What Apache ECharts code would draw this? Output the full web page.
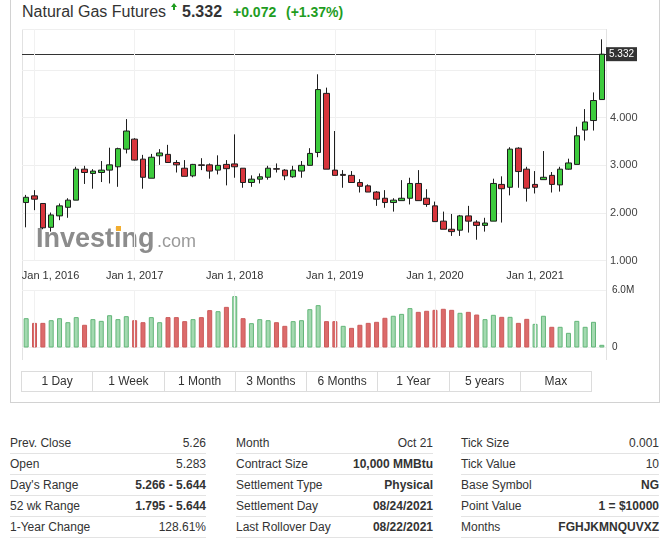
<!DOCTYPE html>
<html><head><meta charset="utf-8">
<script src="https://cdn.jsdelivr.net/npm/echarts@6/dist/echarts.min.js"></script>
<style>
html,body{margin:0;padding:0;background:#fff;width:666px;height:554px;overflow:hidden;font-family:"Liberation Sans",Arial,sans-serif;color:#333;}
.abs{position:absolute;white-space:nowrap;}
#chart{position:absolute;left:0;top:0;width:666px;height:410px;}
.widget{position:absolute;left:10px;top:-2px;width:650px;height:405px;border:1px solid #d2d2d2;box-sizing:border-box;}
.frame{position:absolute;left:22px;top:29px;width:585px;height:331px;border:1px solid #e2e2e2;border-bottom:none;box-sizing:border-box;}
.btns{position:absolute;left:21px;top:371px;width:571px;height:21px;border:1px solid #dcdcdc;box-sizing:border-box;display:flex;}
.btns div{flex:1;text-align:center;font-size:12px;line-height:19px;color:#333;border-right:1px solid #dcdcdc;}
.btns div:last-child{border-right:none;}
.row{position:absolute;height:21px;border-bottom:1px solid #e3e3e3;box-sizing:border-box;font-size:12px;line-height:20px;}
.row .l{position:absolute;left:0;top:0;color:#333;}
.row .v{position:absolute;right:0;top:0;color:#333;}
.b{font-weight:bold;}
</style></head>
<body>
<div class="widget"></div>
<div class="frame"></div>
<div class="abs" style="left:22px;top:3.5px;font-size:16px;line-height:16px;color:#333;">Natural Gas Futures</div>
<div class="abs" style="left:171px;top:3px;width:0;height:0;border-left:3px solid transparent;border-right:3px solid transparent;border-bottom:4px solid #1f9d1f;"></div>
<div class="abs" style="left:173px;top:7px;width:2px;height:3px;background:#1f9d1f;"></div>
<div class="abs" style="left:182px;top:3.5px;font-size:16px;line-height:16px;font-weight:bold;color:#333;">5.332</div>
<div class="abs" style="left:233px;top:4.2px;font-size:14px;line-height:16px;font-weight:bold;color:#1f9d1f;">+0.072</div>
<div class="abs" style="left:286px;top:4.2px;font-size:14px;line-height:16px;font-weight:bold;color:#1f9d1f;">(+1.37%)</div>
<div id="chart"></div>
<div class="btns" id="btns"></div>
<div id="table"></div>
<script>
// ---- data ----
const startYear = 2015, startMonth = 11; // Dec 2015 (0-based month)
const tickLabels = ['Jan 1, 2016','Jan 1, 2017','Jan 1, 2018','Jan 1, 2019','Jan 1, 2020','Jan 1, 2021'];
const opens  = [2.22,2.36,2.20,1.70,1.94,2.12,2.27,2.92,2.83,2.85,2.90,2.97,3.34,3.55,3.13,2.73,3.20,3.23,3.06,2.94,2.78,3.01,3.01,2.90,3.02,3.03,2.94,2.64,2.71,2.75,2.93,2.90,2.76,2.88,3.00,3.27,4.51,2.90,2.81,2.79,2.64,2.57,2.44,2.31,2.22,2.26,2.31,2.62,2.31,2.15,1.83,1.66,1.64,1.94,1.81,1.74,1.83,2.60,2.54,3.36,2.92,2.60,2.70,2.79,2.59,2.92,3.02,3.74,3.94,4.38];
const closes = [2.33,2.29,1.69,1.96,2.15,2.27,2.92,2.85,2.88,2.90,3.01,3.35,3.72,3.11,2.75,3.17,3.26,3.06,3.01,2.77,3.02,3.00,2.88,3.00,2.93,2.97,2.64,2.71,2.76,2.94,2.92,2.78,2.90,3.00,3.25,4.59,2.92,2.79,2.79,2.64,2.56,2.44,2.29,2.22,2.27,2.31,2.62,2.26,2.18,1.82,1.66,1.61,1.94,1.83,1.74,1.79,2.62,2.51,3.34,2.87,2.52,2.54,2.75,2.60,2.92,3.05,3.62,3.91,4.36,5.332];
const lows   = [1.70,2.06,1.66,1.61,1.85,1.90,2.27,2.61,2.51,2.65,2.62,2.55,3.25,3.10,2.51,2.73,3.01,3.06,2.85,2.77,2.75,2.90,2.72,2.81,2.58,2.74,2.53,2.55,2.62,2.70,2.85,2.69,2.74,2.74,3.00,3.17,2.92,2.79,2.53,2.64,2.43,2.44,2.15,2.11,2.03,2.26,2.18,2.26,2.13,1.82,1.66,1.52,1.52,1.59,1.44,1.61,1.83,1.80,2.37,2.53,2.24,2.41,2.70,2.43,2.45,2.91,3.02,3.52,3.73,4.38];
const highs  = [2.38,2.48,2.21,2.01,2.20,2.31,2.97,2.99,2.92,3.09,3.37,3.37,3.97,3.57,3.22,3.24,3.34,3.43,3.11,3.11,3.03,3.15,3.04,3.21,3.11,3.65,2.94,2.79,2.83,2.99,3.04,2.92,2.99,3.09,3.36,4.91,4.63,3.72,2.90,2.88,2.71,2.60,2.46,2.48,2.31,2.69,2.74,2.90,2.50,2.24,2.03,1.98,1.96,2.15,1.85,1.90,2.72,2.77,3.38,3.38,2.97,2.88,3.30,2.86,2.97,3.14,3.81,4.18,4.53,5.644];
const volumesM = [3.06,2.57,2.57,2.85,3.06,2.64,3.17,2.37,2.96,2.78,3.37,2.96,3.27,2.85,2.64,3.17,2.64,3.17,3.17,2.75,2.96,3.17,3.90,3.79,4.24,5.36,3.06,2.54,2.96,2.85,2.64,2.26,2.75,2.85,4.00,4.42,2.75,2.75,2.26,2.05,2.37,2.57,2.68,3.10,3.31,3.51,4.11,3.72,3.83,3.93,4.04,3.93,3.62,3.72,3.44,2.96,3.41,3.20,3.20,2.57,2.99,2.47,3.31,2.16,2.16,1.53,2.78,2.16,2.68,0.28];
const volumeTicks = [0, 6];
const buttons = ['1 Day','1 Week','1 Month','3 Months','6 Months','1 Year','5 years','Max'];
const tableCols = [
  [['Prev. Close','5.26',0],['Open','5.283',0],["Day's Range",'5.266 - 5.644',1],['52 wk Range','1.795 - 5.644',1],['1-Year Change','128.61%',0]],
  [['Month','Oct 21',0],['Contract Size','10,000 MMBtu',1],['Settlement Type','Physical',1],['Settlement Day','08/24/2021',1],['Last Rollover Day','08/22/2021',1]],
  [['Tick Size','0.001',0],['Tick Value','10',0],['Base Symbol','NG',1],['Point Value','1 = $10000',1],['Months','FGHJKMNQUVXZ',1]]
];
// ---- categories ----
const monthNames = ['Jan','Feb','Mar','Apr','May','Jun','Jul','Aug','Sep','Oct','Nov','Dec'];
const cats = opens.map((_, i) => {
  const m = (startMonth + i) % 12, y = startYear + Math.floor((startMonth + i) / 12);
  return monthNames[m] + ' 1, ' + y;
});
// ---- HTML parts ----
document.getElementById('btns').innerHTML = buttons.map(b => '<div>' + b + '</div>').join('');
const colPos = [[10, 196], [236, 197], [461, 198]];
let th = '';
tableCols.forEach((col, ci) => {
  col.forEach((r, ri) => {
    th += '<div class="row" style="left:' + colPos[ci][0] + 'px;width:' + colPos[ci][1] + 'px;top:' + (433 + 21 * ri) + 'px;"><span class="l">' + r[0] + '</span><span class="v' + (r[2] ? ' b' : '') + '">' + r[1] + '</span></div>';
  });
});
document.getElementById('table').innerHTML = th;
// ---- chart ----
const lastClose = closes[closes.length - 1];
const candleData = opens.map((o, i) => [o, closes[i], lows[i], highs[i]]);
const volData = volumesM.map((v, i) => {
  const up = i === 0 || closes[i] >= closes[i - 1];
  return { value: v, itemStyle: up ? { color: '#a3d9b0', borderColor: '#63b679' } : { color: '#dc6b6b', borderColor: '#cc5b5b' } };
});
const vLines = tickLabels.map(t => ({ xAxis: t }));
const chart = echarts.init(document.getElementById('chart'), null, { renderer: 'canvas' });
chart.setOption({
  animation: false,
  grid: [
    { left: 22, top: 29, width: 584, height: 231.7 },
    { left: 22, top: 290, width: 584, height: 57.5 }
  ],
  xAxis: [
    { type: 'category', data: cats, gridIndex: 0, axisLine: { show: false }, axisTick: { show: false }, splitLine: { show: false },
      axisLabel: { interval: (i, v) => tickLabels.includes(v), color: '#333', fontSize: 11, margin: 10,
        fontFamily: 'Liberation Sans, Arial',
        formatter: v => v === tickLabels[0] ? '{f|' + v + '}' : v,
        rich: { f: { padding: [0, 0, 0, 32], color: '#333', fontSize: 11, fontFamily: 'Liberation Sans, Arial' } } } },
    { type: 'category', data: cats, gridIndex: 1, axisLine: { show: false }, axisTick: { show: false }, axisLabel: { show: false }, splitLine: { show: false } }
  ],
  yAxis: [
    { type: 'value', gridIndex: 0, position: 'right', min: 1, max: 5.86, interval: 1,
      axisLine: { show: false }, axisTick: { show: false },
      axisLabel: { margin: 4, color: '#444', fontSize: 11, fontFamily: 'Liberation Sans, Arial', showMaxLabel: false,
        formatter: v => v === 5 ? '' : v.toFixed(3) },
      splitLine: { lineStyle: { color: '#efefef' } } },
    { type: 'value', gridIndex: 1, position: 'right', min: volumeTicks[0], max: volumeTicks[1], interval: 6,
      axisLine: { show: false }, axisTick: { show: false },
      axisLabel: { margin: 6, color: '#333', fontSize: 10, fontFamily: 'Liberation Sans, Arial',
        formatter: v => v === 0 ? '0' : v.toFixed(1) + 'M' },
      splitLine: { lineStyle: { color: '#f0f0f0' } } }
  ],
  graphic: [
    { type: 'text', left: 36, top: 226, z: 0, silent: true,
      style: { text: 'Investing', fontSize: 27, fontWeight: 'bold', fill: '#8c8c8c', fontFamily: 'Liberation Sans, Arial' } },
    { type: 'rect', shape: { x: 116, y: 226, width: 5, height: 5 }, z: 1, silent: true, style: { fill: '#f2ad2f' } },
    { type: 'text', left: 157, top: 233, z: 0, silent: true,
      style: { text: '.com', fontSize: 18, fill: '#9a9a9a', fontFamily: 'Liberation Sans, Arial' } }
  ],
  series: [
    { type: 'candlestick', xAxisIndex: 0, yAxisIndex: 0, data: candleData, barWidth: 6, z: 5,
      itemStyle: { color: '#3dcb3d', color0: '#d8353c', borderColor: '#1e1e1e', borderColor0: '#1e1e1e', borderWidth: 1 },
      markLine: { silent: true, symbol: ['none', 'none'], animation: false, precision: 3,
        data: [
          { yAxis: lastClose, lineStyle: { color: '#333', width: 1, type: 'solid' },
            label: { show: true, position: 'end', distance: 0, formatter: () => lastClose.toFixed(3), color: '#fff', backgroundColor: '#333',
              fontSize: 10, padding: [2, 3, 2, 3], fontFamily: 'Liberation Sans, Arial' } }
        ].concat(vLines.map(d => Object.assign({}, d, { lineStyle: { color: '#f1f1f1', width: 1, type: 'solid' }, label: { show: false } })))
      } },
    { type: 'bar', xAxisIndex: 1, yAxisIndex: 1, data: volData, barWidth: 5,
      itemStyle: { borderWidth: 1 },
      markLine: { silent: true, symbol: ['none', 'none'], animation: false,
        data: vLines.map(d => Object.assign({}, d, { lineStyle: { color: '#f1f1f1', width: 1, type: 'solid' }, label: { show: false } })) } }
  ]
});
</script>
</body></html>
